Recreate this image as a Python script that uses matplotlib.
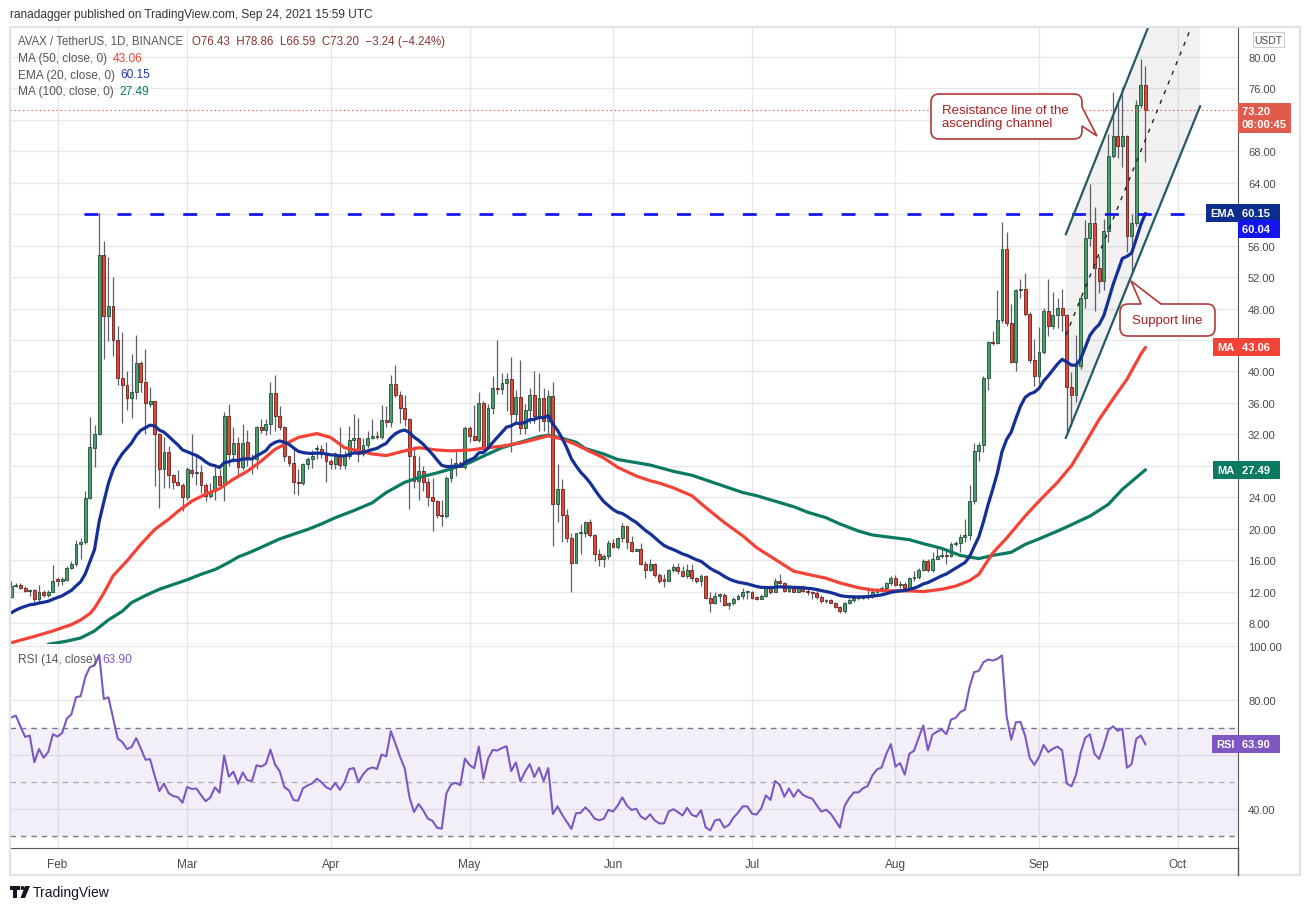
import numpy as np
import pandas as pd
import matplotlib
matplotlib.use("Agg")
import matplotlib.pyplot as plt
from matplotlib.path import Path
from matplotlib.patches import PathPatch, Rectangle, Polygon, Circle
import matplotlib.transforms as mtransforms

plt.rcParams['font.family'] = ['Liberation Sans', 'DejaVu Sans']
plt.rcParams['lines.scale_dashes'] = False

# AVAX/USDT daily candles, 22 Jan -> 24 Sep 2021
start_date = '2021-01-22'
opens = [11.3, 12.7, 12.9, 12.5, 12.1, 12.2, 11.1, 12.0, 11.6, 12.0,
         13.6, 13.3, 13.5, 15.0, 15.5, 18.1, 18.3, 23.9, 30.3, 32.0,
         54.8, 47.0, 48.3, 44.0, 39.2, 38.3, 36.6, 37.4, 41.1, 38.7,
         35.8, 36.2, 32.0, 27.6, 29.7, 26.8, 25.9, 25.6, 24.0, 27.5,
         27.1, 27.2, 25.6, 24.1, 24.8, 26.7, 25.6, 34.3, 29.5, 30.9,
         27.9, 31.0, 29.0, 28.8, 32.9, 32.6, 33.3, 37.3, 34.3, 32.9,
         29.2, 28.4, 25.9, 25.8, 28.2, 28.8, 30.1, 30.1, 29.5, 28.6,
         28.2, 29.2, 28.1, 29.2, 31.3, 31.5, 29.5, 30.7, 31.5, 31.8,
         31.6, 33.8, 33.6, 38.4, 37.0, 35.4, 33.9, 29.3, 26.1, 27.3,
         25.9, 24.0, 23.5, 21.8, 21.6, 26.5, 28.0, 28.3, 27.9, 32.8,
         31.8, 31.3, 36.0, 30.3, 35.3, 37.9, 37.8, 38.5, 39.0, 34.6,
         36.7, 32.8, 35.1, 37.0, 34.3, 36.6, 33.7, 36.9, 23.1, 25.1,
         21.8, 18.8, 15.6, 19.4, 19.4, 20.8, 19.2, 16.8, 16.2, 16.5,
         18.2, 17.7, 18.8, 20.3, 18.3, 17.2, 17.4, 15.5, 14.8, 15.5,
         14.1, 13.5, 13.4, 14.8, 15.1, 14.6, 14.0, 14.8, 13.7, 13.4,
         14.0, 11.2, 10.6, 11.5, 11.6, 10.3, 10.5, 11.1, 11.5, 11.9,
         12.0, 11.2, 11.1, 11.5, 12.4, 12.0, 13.4, 13.1, 12.1, 12.7,
         12.0, 12.5, 12.1, 11.9, 11.8, 11.3, 10.8, 10.9, 10.6, 10.1,
         9.5, 10.5, 10.9, 11.2, 11.2, 11.4, 11.5, 12.0, 12.3, 12.4,
         13.1, 13.7, 12.8, 13.0, 12.5, 13.7, 13.9, 14.8, 15.9, 14.8,
         16.2, 16.5, 16.7, 16.5, 18.0, 18.2, 18.9, 19.2, 23.5, 29.9,
         30.7, 39.1, 43.7, 43.6, 46.6, 55.6, 46.2, 41.2, 50.3, 50.5,
         47.3, 41.4, 39.4, 42.5, 47.7, 45.8, 47.2, 48.1, 47.2, 38.0,
         37.0, 40.7, 49.3, 57.0, 58.9, 53.1, 51.5, 57.9, 67.4, 70.0,
         68.7, 70.0, 57.2, 58.9, 73.9, 76.43]
highs = [13.4, 13.1, 13.1, 12.7, 12.3, 12.3, 12.8, 12.2, 12.2, 15.4,
         13.8, 13.9, 15.2, 15.9, 18.5, 18.8, 24.8, 34.2, 33.2, 60.1,
         56.6, 54.6, 52.0, 45.8, 45.0, 40.0, 42.2, 44.6, 41.3, 42.9,
         38.0, 36.3, 32.2, 31.6, 30.5, 26.9, 27.5, 25.8, 27.8, 32.0,
         29.2, 28.1, 25.8, 25.8, 28.0, 27.6, 34.8, 35.8, 32.9, 31.7,
         33.3, 32.5, 29.5, 33.0, 34.0, 33.9, 38.6, 39.5, 35.6, 33.0,
         29.3, 30.1, 27.6, 28.4, 29.1, 30.0, 30.6, 30.6, 31.0, 28.8,
         29.8, 32.9, 29.9, 33.0, 34.6, 34.1, 31.5, 32.4, 33.9, 32.4,
         35.7, 35.6, 39.5, 40.8, 37.5, 37.0, 34.1, 30.5, 29.3, 28.0,
         26.5, 26.5, 23.7, 23.7, 26.7, 29.0, 29.9, 28.6, 33.1, 33.1,
         35.7, 37.4, 36.3, 35.8, 39.4, 44.0, 39.8, 39.8, 41.8, 37.7,
         41.5, 35.8, 37.9, 40.1, 39.8, 37.9, 37.6, 38.6, 28.2, 26.3,
         22.5, 19.5, 19.5, 20.6, 21.0, 21.2, 19.3, 17.4, 16.8, 18.5,
         18.7, 18.9, 20.7, 20.4, 19.1, 17.5, 18.2, 15.9, 16.1, 15.6,
         14.4, 14.2, 14.9, 15.5, 15.6, 15.3, 15.5, 15.5, 13.9, 14.3,
         14.1, 11.9, 11.9, 11.8, 11.8, 10.7, 11.3, 11.7, 12.4, 12.1,
         12.1, 11.5, 11.7, 12.5, 12.9, 13.7, 14.2, 13.2, 12.9, 12.9,
         12.7, 12.9, 12.5, 12.1, 12.2, 11.6, 11.0, 11.1, 10.7, 10.2,
         10.7, 11.2, 11.5, 11.5, 11.6, 12.6, 12.5, 12.5, 12.7, 13.2,
         14.0, 14.1, 13.3, 13.2, 13.8, 14.6, 15.0, 16.1, 16.1, 17.0,
         17.5, 17.4, 17.4, 18.3, 18.4, 19.3, 21.2, 25.5, 30.9, 31.0,
         39.4, 43.9, 45.2, 50.3, 59.0, 57.7, 48.6, 50.5, 51.8, 52.5,
         47.6, 44.1, 45.7, 48.1, 51.8, 50.1, 49.4, 50.5, 47.3, 39.9,
         44.6, 49.6, 59.3, 63.8, 60.9, 54.7, 59.4, 70.2, 75.5, 74.5,
         76.2, 70.1, 60.0, 74.5, 79.7, 78.86]
lows = [11.2, 12.6, 12.3, 11.9, 11.5, 10.7, 10.8, 11.3, 11.3, 11.9,
        12.7, 12.9, 13.4, 14.9, 15.3, 16.1, 18.0, 23.8, 27.8, 31.9,
        41.6, 43.9, 42.0, 38.3, 33.5, 35.1, 34.1, 36.5, 37.4, 32.0,
        35.5, 25.4, 22.6, 25.2, 25.2, 25.1, 25.5, 22.2, 23.6, 26.6,
        25.6, 24.5, 23.5, 23.9, 23.6, 25.0, 23.5, 28.0, 28.5, 26.7,
        27.5, 28.0, 27.0, 27.6, 32.2, 31.9, 32.0, 32.4, 32.6, 28.6,
        28.0, 24.4, 24.3, 25.6, 27.6, 27.7, 28.9, 29.0, 25.9, 27.6,
        27.6, 27.6, 27.6, 28.8, 29.7, 28.5, 29.3, 30.3, 31.4, 31.4,
        31.4, 32.9, 32.9, 36.7, 33.5, 33.1, 22.5, 25.2, 23.7, 24.8,
        22.9, 19.7, 21.4, 20.4, 21.4, 25.9, 26.7, 27.8, 27.6, 31.0,
        31.2, 31.0, 30.1, 30.1, 34.6, 37.1, 37.1, 35.0, 29.7, 33.5,
        32.0, 32.0, 33.5, 33.4, 32.4, 32.4, 32.2, 17.8, 20.8, 18.3,
        18.3, 11.9, 15.6, 16.8, 18.9, 18.9, 15.9, 15.3, 15.1, 16.2,
        17.6, 17.4, 18.3, 17.4, 17.0, 17.1, 15.4, 13.7, 14.6, 13.8,
        13.1, 12.6, 13.4, 14.5, 14.2, 13.9, 13.7, 13.4, 13.1, 12.7,
        11.0, 9.4, 10.4, 10.7, 10.2, 9.8, 10.3, 10.9, 11.1, 11.0,
        11.0, 10.9, 11.0, 11.3, 11.7, 11.9, 13.0, 12.0, 11.9, 11.9,
        11.9, 11.9, 11.6, 11.1, 11.0, 10.6, 10.6, 10.5, 9.9, 9.3,
        9.3, 10.4, 10.7, 10.9, 11.0, 11.1, 11.2, 11.8, 12.0, 12.0,
        12.8, 12.7, 12.5, 12.3, 12.3, 13.4, 13.6, 14.6, 14.5, 14.5,
        16.1, 16.3, 15.5, 16.4, 17.8, 17.0, 18.3, 18.5, 23.1, 28.6,
        29.7, 37.7, 43.3, 43.5, 46.2, 45.8, 41.1, 40.1, 49.4, 47.1,
        41.1, 38.2, 38.4, 42.2, 44.5, 45.4, 45.5, 45.2, 32.2, 33.1,
        36.1, 40.3, 48.1, 56.0, 47.7, 50.0, 50.3, 56.5, 67.2, 67.2,
        66.0, 55.2, 52.6, 58.5, 73.5, 66.59]
closes = [12.7, 12.9, 12.5, 12.1, 12.2, 11.1, 12.0, 11.6, 12.0, 13.4,
          13.3, 13.6, 15.0, 15.5, 18.1, 18.3, 23.9, 30.4, 32.0, 54.8,
          47.0, 48.3, 44.0, 39.2, 38.3, 36.6, 37.4, 41.1, 38.7, 36.0,
          36.2, 32.0, 27.6, 29.7, 26.8, 25.9, 25.6, 24.0, 27.6, 27.1,
          27.2, 25.6, 24.1, 24.8, 26.7, 25.6, 34.3, 29.5, 30.9, 27.9,
          30.9, 29.0, 28.8, 32.9, 32.6, 33.3, 37.3, 34.3, 32.9, 29.2,
          28.4, 25.9, 25.8, 28.2, 28.8, 29.2, 30.1, 29.5, 28.6, 28.2,
          29.2, 28.1, 29.2, 31.3, 31.5, 29.5, 30.7, 31.5, 31.8, 31.6,
          33.8, 33.6, 38.4, 37.0, 35.4, 33.9, 29.3, 26.1, 27.3, 25.9,
          24.0, 23.5, 21.8, 21.6, 26.5, 28.0, 28.3, 27.9, 32.8, 31.8,
          31.3, 36.0, 30.3, 35.3, 37.9, 37.8, 38.5, 39.0, 34.6, 36.7,
          32.8, 35.1, 37.0, 34.3, 36.6, 33.7, 36.9, 23.1, 25.1, 21.8,
          18.8, 15.6, 19.4, 19.5, 20.8, 19.2, 16.8, 16.2, 16.5, 18.2,
          17.7, 18.8, 20.3, 18.3, 17.2, 17.4, 15.5, 14.8, 15.5, 14.1,
          13.4, 13.4, 14.8, 15.1, 14.6, 14.0, 14.8, 13.7, 13.4, 14.0,
          11.2, 10.6, 11.5, 11.6, 10.3, 10.5, 11.1, 11.5, 12.0, 12.0,
          11.2, 11.1, 11.5, 12.4, 12.0, 13.4, 13.1, 12.1, 12.7, 12.0,
          12.5, 12.1, 11.9, 11.8, 11.3, 10.8, 10.9, 10.6, 10.1, 9.5,
          10.5, 10.9, 11.2, 11.2, 11.4, 11.5, 12.0, 12.3, 12.4, 13.1,
          13.7, 12.8, 13.0, 12.5, 13.7, 13.9, 14.8, 15.9, 14.8, 16.2,
          16.5, 16.7, 16.5, 18.0, 18.2, 18.9, 19.2, 23.5, 29.9, 30.7,
          39.1, 43.7, 43.6, 46.6, 55.6, 46.2, 41.2, 50.3, 50.5, 47.3,
          41.4, 39.4, 42.5, 47.7, 45.8, 47.2, 48.1, 47.2, 38.0, 37.0,
          40.7, 49.3, 57.0, 58.9, 53.1, 51.5, 57.9, 67.4, 70.0, 68.7,
          70.0, 57.2, 58.9, 73.9, 76.4, 73.20]

# moving averages (day index, value)
ma50_day = [0, 5, 9, 13, 15, 17, 18, 20, 22, 25, 28, 31, 34, 36, 39, 42, 45, 48,
            51, 54, 57, 60, 62, 66, 69, 72, 75, 78, 81, 85, 88, 92, 95, 99, 103,
            106, 110, 114, 116, 119, 122, 124, 128, 131, 135, 138, 140, 143, 147,
            150, 154, 158, 161, 165, 169, 172, 176, 179, 183, 186, 190, 194, 197,
            201, 204, 207, 209, 212, 215, 219, 222, 226, 229, 232, 235, 238, 241,
            244, 245]
ma50_val = [5.5, 6.3, 7.0, 7.8, 8.4, 9.2, 9.9, 11.8, 14.0, 15.9, 18.0, 19.9, 21.2,
            22.2, 23.5, 24.4, 25.1, 26.3, 27.3, 28.6, 30.1, 31.0, 31.6, 32.1, 31.6,
            30.3, 29.9, 29.5, 29.3, 29.9, 30.3, 30.0, 29.9, 30.0, 30.3, 30.5, 30.9,
            31.5, 31.8, 31.4, 30.7, 30.1, 29.0, 27.8, 26.7, 26.1, 25.8, 25.2, 24.2,
            22.7, 20.8, 19.1, 17.6, 16.1, 14.6, 14.2, 13.7, 13.1, 12.5, 12.2, 12.1,
            12.1, 12.0, 12.3, 12.7, 13.4, 14.2, 16.9, 18.8, 21.6, 23.5, 25.9, 28.0,
            30.9, 33.9, 36.5, 39.0, 42.2, 43.06]
ma100_day = [8, 12, 15, 18, 21, 24, 26, 29, 32, 35, 38, 41, 44, 47, 49, 52, 55, 58,
             61, 64, 67, 70, 74, 78, 81, 85, 88, 92, 95, 99, 103, 106, 110, 114, 116,
             119, 122, 124, 128, 131, 135, 138, 143, 147, 150, 154, 158, 161, 165,
             169, 172, 176, 179, 183, 186, 190, 194, 197, 201, 205, 209, 212, 216,
             219, 222, 226, 229, 233, 237, 240, 242, 245]
ma100_val = [5.3, 5.7, 6.1, 7.0, 8.4, 9.5, 10.6, 11.5, 12.3, 12.9, 13.5, 14.2, 14.8,
             15.7, 16.4, 17.1, 17.9, 18.7, 19.3, 19.9, 20.6, 21.4, 22.3, 23.3, 24.6,
             25.9, 26.5, 27.1, 27.6, 28.4, 29.5, 30.3, 31.0, 31.7, 31.9, 31.5, 31.0,
             30.2, 29.5, 28.8, 28.4, 28.1, 27.3, 26.8, 26.2, 25.4, 24.6, 24.2, 23.5,
             22.8, 22.1, 21.4, 20.6, 19.7, 19.2, 18.9, 18.6, 18.1, 17.5, 16.6, 16.2,
             16.6, 17.0, 18.0, 18.7, 19.7, 20.5, 21.6, 23.1, 25.0, 26.0, 27.49]
ema_start = 9.3            # EMA(20) value at the first visible day
rsi_start = (0.42, 0.15)   # average gain / loss at the first visible day

resistance = 60.04
last_price = 73.20
# ascending channel drawing: (day, price) anchors
chan_upper = [(227.8, 57.45), (245.7, 83.95)]
chan_lower = [(227.8, 31.55), (256.8, 73.72)]
chan_mid = [(227.8, 44.6), (255.0, 83.95)]

o = np.array(opens); h = np.array(highs); l = np.array(lows); c = np.array(closes)
n = len(c)
x = np.arange(n)
dates = pd.date_range(start_date, periods=n, freq='D')
months = pd.date_range('2021-02-01', '2021-10-01', freq='MS')
month_pos = np.array((months - dates[0]).days)
month_lab = [d.strftime('%b') for d in months]

ema = pd.Series([ema_start] + closes[1:]).ewm(span=20, adjust=False).mean()
delta = pd.Series(c).diff().fillna(0)
gain = delta.clip(lower=0).values.copy(); loss = (-delta).clip(lower=0).values.copy()
gain[0], loss[0] = rsi_start
avg_g = pd.Series(gain).ewm(alpha=1 / 14, adjust=False).mean()
avg_l = pd.Series(loss).ewm(alpha=1 / 14, adjust=False).mean()
rsi = 100 - 100 / (1 + avg_g / avg_l)

W, H = 1310, 912
fig = plt.figure(figsize=(W / 100, H / 100), dpi=100)
fig.patch.set_facecolor('white')

def frac(x0, y0, x1, y1):
    return [x0 / W, 1 - y1 / H, (x1 - x0) / W, (y1 - y0) / H]

ax = fig.add_axes(frac(10, 28, 1238.3, 644.5))
rx = fig.add_axes(frac(10, 644.5, 1238.3, 849.3), sharex=ax)

grid_c = '#e8e8ea'
txt_c = '#4a4a4a'

# ---- main panel
ax.set_xlim(-0.26, 265.05)
ax.set_ylim(5.4, 83.8)
yt = np.arange(8, 81, 4)
ax.set_yticks(yt)
# 72, 60, 44 and 28 sit under the price boxes
ax.set_yticklabels(['' if v in (72, 60, 44, 28) else f'{v:.2f}' for v in yt])
ax.yaxis.tick_right()
ax.tick_params(axis='y', length=0, pad=7, labelsize=8, labelcolor=txt_c)
ax.set_xticks(month_pos)
ax.tick_params(axis='x', length=0, labelbottom=False)
ax.grid(True, color=grid_c, lw=1)
ax.set_axisbelow(True)
for s in ['top', 'left']:
    ax.spines[s].set_visible(False)
ax.spines['right'].set_color('#555555')
ax.spines['bottom'].set_color('#555555')

# channel fill and lines
up_slope = (chan_upper[1][1] - chan_upper[0][1]) / (chan_upper[1][0] - chan_upper[0][0])
fill_pts = [chan_upper[0], (chan_upper[0][0] + (83.8 - chan_upper[0][1]) / up_slope, 83.8),
            (chan_lower[1][0], 83.8), chan_lower[1], chan_lower[0]]
ax.add_patch(Polygon(fill_pts, closed=True, fc='#9598a1', alpha=0.13, ec='none', zorder=1.5))

up = c >= o
ax.vlines(x, l, h, color='#5d606b', lw=0.9, zorder=2)
bot = np.minimum(o, c)
hgt = np.maximum(np.abs(c - o), 0.15)
ax.bar(x[up], hgt[up], bottom=bot[up], width=0.62, color='#4f9b6c', edgecolor='#1f4f35', lw=0.6, zorder=3)
ax.bar(x[~up], hgt[~up], bottom=bot[~up], width=0.62, color='#dc4a3c', edgecolor='#6e1f17', lw=0.6, zorder=3)

ax.plot(ma100_day, ma100_val, color='#0b7a62', lw=2.3, zorder=4, solid_capstyle='round')
ax.plot(ma50_day, ma50_val, color='#f44336', lw=2.3, zorder=4, solid_capstyle='round')
ax.plot(x, ema, color='#142f96', lw=2.3, zorder=4, solid_capstyle='round')

ax.plot([15.7, 255.7], [resistance, resistance], color='#1616f5', lw=2.0, dashes=(10, 13.7), zorder=5)
ax.axhline(last_price, color='#e05b4c', lw=0.8, ls=(0, (1, 2)), zorder=5)
ax.plot(*zip(*chan_upper), color='#245a63', lw=1.6, zorder=5)
ax.plot(*zip(*chan_lower), color='#245a63', lw=1.6, zorder=5)
ax.plot(*zip(*chan_mid), color='#222222', lw=1.0, dashes=(3, 4.5), zorder=5)

# right-axis price boxes
bt = mtransforms.blended_transform_factory(ax.transAxes, ax.transData)
def price_box(val_txt, y, fc, va='center'):
    ax.text(1.003, y, val_txt, transform=bt, color='white', fontsize=8, fontweight='bold', va=va, ha='left',
            bbox=dict(boxstyle='square,pad=0.35', fc=fc, ec='none'), zorder=10, clip_on=False,
            linespacing=1.3)
price_box('73.20    \n08:00:45', 73.7, '#e05b4c', va='top')
price_box('60.15  ', 60.15, '#0c2f8f')
price_box('60.04  ', 58.1, '#1414f0')
price_box('43.06  ', 43.06, '#f44336')
price_box('27.49  ', 27.49, '#0b7a62')
def tag_box(label, y, fc):
    ax.text(0.997, y, label, transform=bt, color='white', fontsize=8, fontweight='bold', va='center',
            ha='right', bbox=dict(boxstyle='square,pad=0.35', fc=fc, ec='none'), zorder=10, clip_on=False)
tag_box('EMA', 60.15, '#0c2f8f')
tag_box('MA', 43.06, '#f44336')
tag_box('MA', 27.49, '#0b7a62')

# ---- RSI panel
rx.set_ylim(25.6, 100.9)
rx.axhspan(30, 70, color='#7e57c2', alpha=0.09, lw=0)
rx.axhline(70, color='#787b86', lw=1, dashes=(4, 3.5))
rx.axhline(30, color='#787b86', lw=1, dashes=(4, 3.5))
rx.axhline(50, color='#a8aab2', lw=0.9, dashes=(4, 3.5))
rx.plot(x, rsi, color='#7e57c2', lw=1.5, zorder=4)
rx.set_yticks([40, 60, 80, 100])
rx.set_yticklabels(['40.00', '', '80.00', '100.00'])
rx.yaxis.tick_right()
rx.tick_params(axis='y', length=0, pad=7, labelsize=8, labelcolor=txt_c)
rx.set_xticks(month_pos)
rx.set_xticklabels(month_lab)
rx.tick_params(axis='x', length=0, pad=7, labelsize=8.5, labelcolor=txt_c)
rx.grid(True, color=grid_c, lw=1)
rx.set_axisbelow(True)
for s in ['top', 'left']:
    rx.spines[s].set_visible(False)
rx.spines['right'].set_color('#555555')
rx.spines['bottom'].set_color('#555555')
rbt = mtransforms.blended_transform_factory(rx.transAxes, rx.transData)
rx.text(1.003, 63.9, '63.90  ', transform=rbt, color='white', fontsize=8, fontweight='bold', va='center',
        bbox=dict(boxstyle='square,pad=0.35', fc='#7e57c2', ec='none'), zorder=10, clip_on=False)
rx.text(0.997, 63.9, 'RSI', transform=rbt, color='white', fontsize=8, fontweight='bold', va='center', ha='right',
        bbox=dict(boxstyle='square,pad=0.35', fc='#7e57c2', ec='none'), zorder=10, clip_on=False)

# ---- overlay in pixel coordinates for frame, legends and callouts
ov = fig.add_axes([0, 0, 1, 1], zorder=20)
ov.set_xlim(0, W); ov.set_ylim(H, 0); ov.axis('off'); ov.patch.set_alpha(0)
ov.add_patch(Rectangle((10, 28), 1290, 848, fill=False, ec='#e0e3eb', lw=1.6))
ov.plot([1238.3, 1238.3], [849, 876], color='#555555', lw=1)
ov.add_patch(Rectangle((1253, 33), 31, 15, fill=False, ec='#c9ccd4', lw=0.8))
ov.text(1268.5, 40.5, 'USDT', fontsize=7.5, color=txt_c, ha='center', va='center')

ov.text(10, 15, 'ranadagger published on TradingView.com, Sep 24, 2021 15:59 UTC', fontsize=8.6,
        color='#333333', va='center')
t = ov.text(18, 42, 'AVAX / TetherUS, 1D, BINANCE', fontsize=8.3, color='#555555', va='center')
ov.annotate('O76.43  H78.86  L66.59  C73.20  \u22123.24 (\u22124.24%)', xy=(1, 0.5), xycoords=t,
            xytext=(6, 0), textcoords='offset points', fontsize=8.3, color='#8c3131', va='center')
legend_rows = [('MA (50, close, 0)', '43.06', '#f44336', 59),
               ('EMA (20, close, 0)', '60.15', '#1e3aa8', 75.5),
               ('MA (100, close, 0)', '27.49', '#0b7a62', 92),
               ('RSI (14, close)', '63.90', '#7e57c2', 660)]
for name, val, col, yy in legend_rows:
    t = ov.text(18, yy, name, fontsize=8.6, color='#555555', va='center')
    ov.annotate(val, xy=(1, 0.5), xycoords=t, xytext=(4, 0), textcoords='offset points',
                fontsize=8.6, color=col, va='center')

def bubble(L, T, R, B, r, side, a, b, tip):
    verts, codes = [], []
    def mv(p): verts.append(p); codes.append(Path.MOVETO)
    def ln(p): verts.append(p); codes.append(Path.LINETO)
    def qd(cp, p): verts.extend([cp, p]); codes.extend([Path.CURVE3, Path.CURVE3])
    mv((L + r, T))
    if side == 'top':
        ln((a, T)); ln(tip); ln((b, T))
    ln((R - r, T)); qd((R, T), (R, T + r))
    if side == 'right':
        ln((R, a)); ln(tip); ln((R, b))
    ln((R, B - r)); qd((R, B), (R - r, B))
    ln((L + r, B)); qd((L, B), (L, B - r))
    ln((L, T + r)); qd((L, T), (L + r, T))
    verts.append((L + r, T)); codes.append(Path.CLOSEPOLY)
    return Path(verts, codes)

call_c = '#b03a3a'
ov.add_patch(PathPatch(bubble(931, 95, 1082, 140, 8, 'right', 108, 127, (1097, 137)),
                       fc='white', ec=call_c, lw=1.2))
ov.text(942, 117.5, 'Resistance line of the\nascending channel', fontsize=9.5, color='#a82020',
        va='center', ha='left', linespacing=1.0)
ov.add_patch(PathPatch(bubble(1120, 305, 1215, 337, 8, 'top', 1141, 1161, (1131, 282)),
                       fc='white', ec=call_c, lw=1.2))
ov.text(1167.5, 321, 'Support line', fontsize=9.5, color='#a82020', va='center', ha='center')

# TradingView logo
ov.add_patch(Polygon([(10, 887), (20, 887), (20, 891), (17, 891), (17, 899), (13, 899), (13, 891), (10, 891)],
                     fc='#131722', ec='none'))
ov.add_patch(Circle((22.5, 889), 2.0, fc='#131722', ec='none'))
ov.add_patch(Polygon([(25, 887), (30, 887), (25, 899), (20.5, 899)], fc='#131722', ec='none'))
ov.text(33, 893.5, 'TradingView', fontsize=10, color='#131722', va='center')

fig.savefig('out.png', dpi=100)
